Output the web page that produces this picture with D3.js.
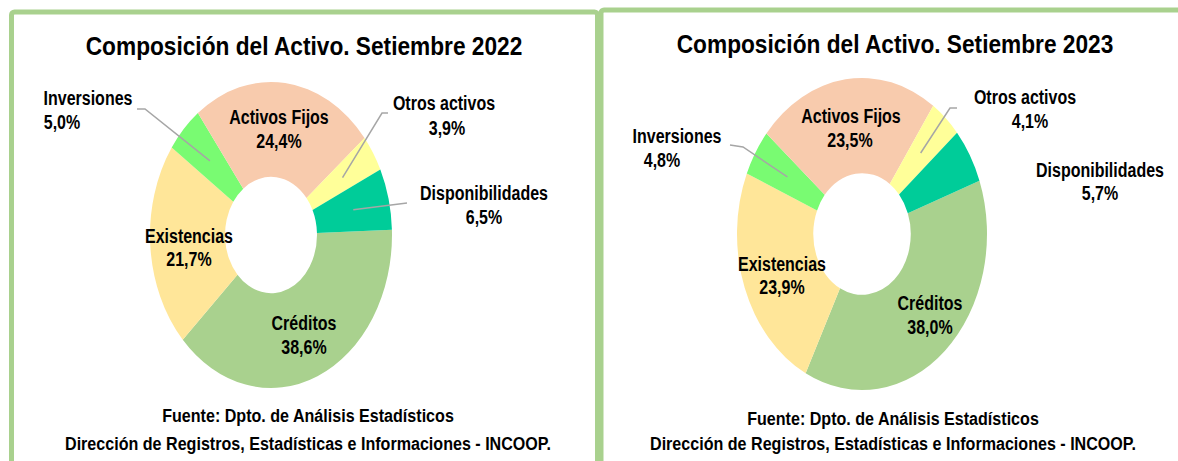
<!DOCTYPE html>
<html>
<head>
<meta charset="utf-8">
<script src="https://cdn.jsdelivr.net/npm/d3@7"></script>
<style>
  body { margin: 0; background: #fff; }
  svg text { font-family: "Liberation Sans", Arial, sans-serif; font-weight: bold; fill: #000; }
</style>
</head>
<body>
<svg id="chart" width="1178" height="461"></svg>
<script>
const categories = ["Créditos", "Existencias", "Inversiones", "Activos Fijos", "Otros activos", "Disponibilidades"]
const values2022 = [38.6, 21.7, 5.0, 24.4, 3.9, 6.5]
const values2023 = [38.0, 23.9, 4.8, 23.5, 4.1, 5.7]
const colors = ["#a9d18e", "#ffe699", "#79fb72", "#f8cbad", "#ffff99", "#00cc99"]
const titles = ["Composición del Activo. Setiembre 2022", "Composición del Activo. Setiembre 2023"]
const fuente = ["Fuente: Dpto. de Análisis Estadísticos", "Dirección de Registros, Estadísticas e Informaciones - INCOOP."]

const width = 1178, height = 461
const svg = d3.select('#chart')

const locale = d3.formatLocale({decimal: ",", thousands: ".", grouping: [3], currency: ["", ""]})
const pct = v => locale.format(".1f")(v) + "%"

// narrow bold text: Liberation Sans squeezed horizontally
const addText = (parent, x, y, str, size, sx) => parent.append('text')
  .attr('transform', `translate(${x},${y}) scale(${sx},1)`)
  .attr('text-anchor', 'middle')
  .style('font-size', size + 'px')
  .text(str)

// layout of each panel (label spots are relative to the donut centre: [name x, name y, pct x, pct y])
const panels = [
  {
    values: values2022, title: titles[0],
    box: {x: 11.5, y: 12, w: 586},
    titleX: 304, titleY: 55,
    cx: 271, cy: 235, rx: 121, ry: 153, start: 88, hole: 0.38,
    footX: 308, footY: [422, 450],
    labels: {
      "Créditos": [33, 95, 33, 119], "Existencias": [-82, 8, -82, 31], "Inversiones": [-183, -130, -209, -106],
      "Activos Fijos": [8, -111, 8, -87], "Otros activos": [173, -125, 176, -100], "Disponibilidades": [213, -35, 213, -11]
    },
    leaders: {"Inversiones": [[-134, -126], [-126, -126]], "Otros activos": [[117, -122], [111, -122]], "Disponibilidades": [[136, -32]]}
  },
  {
    values: values2023, title: titles[1],
    box: {x: 601, y: 10, w: 600},
    titleX: 895, titleY: 53,
    cx: 862, cy: 234, rx: 125, ry: 156, start: 70, hole: 0.39,
    footX: 893, footY: [425, 450],
    labels: {
      "Créditos": [68, 76, 68, 100], "Existencias": [-80, 37, -80, 60], "Inversiones": [-185, -91, -200, -67],
      "Activos Fijos": [-11, -111, -12, -87], "Otros activos": [163, -130, 168, -106], "Disponibilidades": [238, -57, 238, -34]
    },
    leaders: {"Inversiones": [[-132, -89], [-119, -87]], "Otros activos": [[95, -126], [88, -126]]}
  }
]

panels.forEach(p => {
  svg.append('rect')
    .attr('x', p.box.x).attr('y', p.box.y)
    .attr('width', p.box.w).attr('height', 520)
    .attr('rx', 3)
    .attr('fill', '#fff')
    .attr('stroke', '#a9d18e')
    .attr('stroke-width', 5)

  addText(svg, p.titleX, p.titleY, p.title, 25.5, 0.89)

  const R = p.rx
  const data = categories.map((c, i) => ({cat: c, value: p.values[i], color: colors[i]}))
  const pie = d3.pie().sort(null).value(d => d.value)
    .startAngle(p.start * Math.PI / 180)
    .endAngle(p.start * Math.PI / 180 + 2 * Math.PI)
  const arcs = pie(data)
  const arc = d3.arc().innerRadius(R * p.hole).outerRadius(R)
  const inner = d3.arc().innerRadius(R * 0.7).outerRadius(R * 0.7)
  const sy = p.ry / p.rx

  const g = svg.append('g')
    .attr('transform', `translate(${p.cx},${p.cy})`)

  g.append('g')
    .attr('transform', `scale(1,${sy})`)
    .selectAll('path')
    .data(arcs)
    .join('path')
    .attr('d', arc)
    .attr('fill', d => d.data.color)

  // leader lines
  arcs.filter(d => p.leaders[d.data.cat]).forEach(d => {
    const c = inner.centroid(d)
    const pts = p.leaders[d.data.cat].concat([[c[0], c[1] * sy]])
    g.append('path')
      .attr('d', d3.line()(pts))
      .attr('fill', 'none')
      .attr('stroke', '#a6a6a6')
      .attr('stroke-width', 1.5)
  })

  arcs.forEach(d => {
    const pos = p.labels[d.data.cat]
    addText(g, pos[0], pos[1], d.data.cat, 19.5, 0.82)
    addText(g, pos[2], pos[3], pct(d.data.value), 19.5, 0.82)
  })

  fuente.forEach((f, i) => addText(svg, p.footX, p.footY[i], f, 18.5, 0.87))
})
</script>
</body>
</html>
